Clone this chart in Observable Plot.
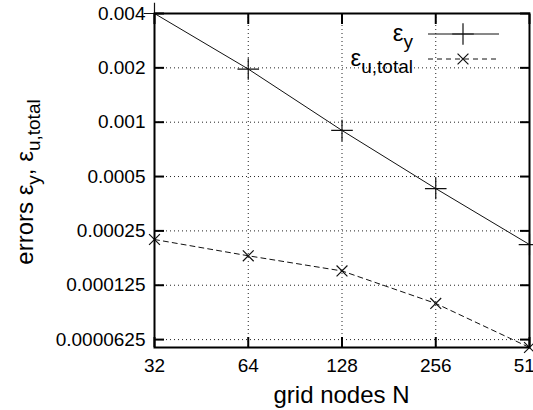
<!DOCTYPE html>
<html>
<head>
<meta charset="utf-8">
<script src="https://cdn.jsdelivr.net/npm/d3@7"></script>
<script src="https://cdn.jsdelivr.net/npm/@observablehq/plot@0.6"></script>
<style>
  html, body { margin: 0; padding: 0; background: #fff; }
  #chart svg { font-family: "Liberation Sans", Arial, Helvetica, sans-serif; }
</style>
</head>
<body>
<div id="chart"></div>
<script>
// Convergence of the errors with grid refinement
const gridNodes = [32, 64, 128, 256, 512];
const errY = [0.004, 0.00197, 0.0009, 0.000429, 0.00021];
const errU = [0.000224, 0.000182, 0.00015, 0.0000991, 0.0000565];

const xTicks = [32, 64, 128, 256, 512];
const yTicks = [0.004, 0.002, 0.001, 0.0005, 0.00025, 0.000125, 0.0000625];
const yTickLabels = ["0.004", "0.002", "0.001", "0.0005", "0.00025", "0.000125", "0.0000625"];

const rows = gridNodes.map((n, i) => ({n, ey: errY[i], eu: errU[i]}));
const yLabelOf = new Map(yTicks.map((t, i) => [t, yTickLabels[i]]));

const font = '"Liberation Sans", Arial, Helvetica, sans-serif';
const ink = "#000";
const gridStyle = {stroke: "#222", strokeOpacity: 1, strokeWidth: 1, strokeDasharray: "1,3"};

const chart = Plot.plot({
  width: 533,
  height: 410,
  marginLeft: 154,
  marginRight: 4,
  marginTop: 13,
  marginBottom: 63,
  style: {fontFamily: font, fontSize: "19px", color: ink, background: "#fff", overflow: "visible"},
  x: {type: "log", base: 2, domain: [32, 512]},
  y: {type: "log", domain: [0.0000565, 0.004]},
  marks: [
    Plot.gridX(xTicks, gridStyle),
    Plot.gridY(yTicks, gridStyle),
    // inward tick marks on all four sides
    Plot.axisX(xTicks, {anchor: "bottom", tickSize: -10, strokeWidth: 2, fill: "none", label: null}),
    Plot.axisX(xTicks, {anchor: "top", tickSize: -10, strokeWidth: 2, fill: "none", label: null}),
    Plot.axisY(yTicks, {anchor: "left", tickSize: -10, strokeWidth: 2, fill: "none", label: null}),
    Plot.axisY(yTicks, {anchor: "right", tickSize: -10, strokeWidth: 2, fill: "none", label: null}),
    // tick labels on the left and bottom
    Plot.text(yTicks, {y: d => d, text: d => yLabelOf.get(d), frameAnchor: "left", textAnchor: "end", dx: -9, fill: ink, fontSize: 19}),
    Plot.text(xTicks, {x: d => d, text: d => String(d), frameAnchor: "bottom", lineAnchor: "top", dy: 11, fill: ink, fontSize: 19}),
    Plot.line(rows, {x: "n", y: "ey", stroke: "#111", strokeWidth: 1}),
    Plot.line(rows, {x: "n", y: "eu", stroke: "#111", strokeWidth: 1, strokeDasharray: "5,4"}),
    Plot.dot(rows, {x: "n", y: "ey", symbol: "plus", r: 7, stroke: "#111", strokeWidth: 1.2}),
    Plot.dot(rows, {x: "n", y: "eu", symbol: "times", r: 5, stroke: "#111", strokeWidth: 1.2}),
    Plot.frame({stroke: ink, strokeWidth: 2})
  ]
});

const svg = d3.select(chart);

// axis titles with subscripts
svg.append("text")
  .attr("x", 341.5).attr("y", 403)
  .attr("text-anchor", "middle").attr("font-size", 24).attr("fill", ink)
  .text("grid nodes N");

const yTitle = svg.append("text")
  .attr("transform", "translate(33,182) rotate(-90)")
  .attr("text-anchor", "middle").attr("font-size", 24).attr("fill", ink);
yTitle.append("tspan").text("errors ε");
yTitle.append("tspan").attr("font-size", 19).attr("dy", 7).text("y");
yTitle.append("tspan").attr("dy", -7).text(", ε");
yTitle.append("tspan").attr("font-size", 19).attr("dy", 7).text("u,total");

// key
const key = [
  {name: "ε", sub: "y", dash: null, symbol: d3.symbolPlus, size: Math.PI * 49},
  {name: "ε", sub: "u,total", dash: "5,4", symbol: d3.symbolTimes, size: Math.PI * 25}
];
key.forEach((k, i) => {
  const cy = 34 + i * 25;
  const label = svg.append("text")
    .attr("x", 413).attr("y", cy + 7)
    .attr("text-anchor", "end").attr("font-size", 24).attr("fill", ink);
  label.append("tspan").text(k.name);
  label.append("tspan").attr("font-size", 19).attr("dy", 7).text(k.sub);
  svg.append("line")
    .attr("x1", 428).attr("x2", 499).attr("y1", cy).attr("y2", cy)
    .attr("stroke", "#111").attr("stroke-width", 1)
    .attr("stroke-dasharray", k.dash);
  svg.append("path")
    .attr("transform", `translate(463,${cy})`)
    .attr("d", d3.symbol(k.symbol, k.size)())
    .attr("fill", "none").attr("stroke", "#111").attr("stroke-width", 1.2);
});

document.getElementById("chart").append(chart);
</script>
</body>
</html>
